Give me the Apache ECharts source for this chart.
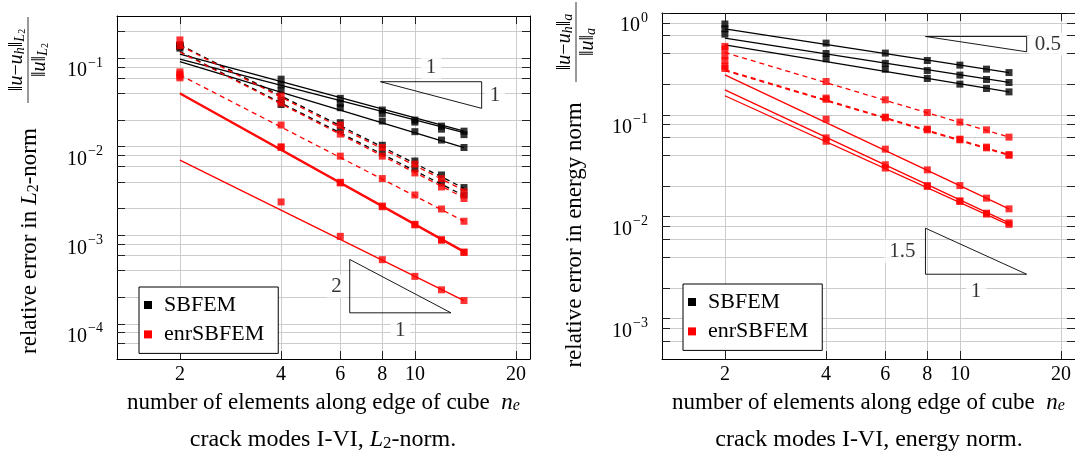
<!DOCTYPE html>
<html><head><meta charset="utf-8">
<script src="https://cdn.jsdelivr.net/npm/echarts@6/dist/echarts.min.js"></script>
<style>html,body{margin:0;padding:0;background:#fff}#c{width:1075px;height:458px}</style>
</head><body><div id="c"></div>
<script>
// ---------- data ----------
const ne = [2, 4, 6, 8, 10, 12, 14];
const fitNe = [2, 14];
const xTicks = [2, 4, 6, 8, 10, 20];
const xTickLabels = [2, 4, 6, 8, 10, 20];
const yTicksL2 = [6e-5, 8e-5, 1e-4, 2e-4, 4e-4, 6e-4, 8e-4, 1e-3, 2e-3, 4e-3, 6e-3, 8e-3, 1e-2, 2e-2, 4e-2, 6e-2, 8e-2, 0.1, 0.2];
const yLabelsL2 = [1e-4, 1e-3, 1e-2, 1e-1];
const yTicksEn = [6e-4, 8e-4, 1e-3, 2e-3, 4e-3, 6e-3, 8e-3, 1e-2, 2e-2, 4e-2, 6e-2, 8e-2, 0.1, 0.2, 0.4, 0.6, 0.8, 1];
const yLabelsEn = [1e-3, 1e-2, 1e-1, 1];

// L2-norm, SBFEM (black)
const l2SbSolid1 = [0.140, 0.058, 0.0352, 0.0260, 0.0200, 0.0171, 0.0150];
const l2SbSolid2 = [0.135, 0.050, 0.0309, 0.0238, 0.0190, 0.0158, 0.0137];
const l2SbSolid3 = [0.130, 0.043, 0.0276, 0.0195, 0.0148, 0.0119, 0.0098];
const l2SbDash1  = [0.1416, 0.0337, 0.0187, 0.0104, 0.0069, 0.0048, 0.00346];
const l2SbDash2  = [0.138, 0.0300, 0.0154, 0.0085, 0.00568, 0.0039, 0.00285];
const l2SbSolid1Fit = [0.111, 0.0150];
const l2SbSolid2Fit = [0.0974, 0.0144];
const l2SbSolid3Fit = [0.0915, 0.0098];
const l2SbDash1Fit  = [0.1416, 0.00340];
const l2SbDash2Fit  = [0.119, 0.00280];
// L2-norm, enrSBFEM (red)
const l2EnDash1  = [0.161, 0.0374, 0.01758, 0.00982, 0.00636, 0.00437, 0.00309];
const l2EnDash2  = [0.138, 0.0312, 0.0139, 0.00783, 0.00506, 0.00351, 0.00260];
const l2EnDash3  = [0.070, 0.0176, 0.00783, 0.00437, 0.00285, 0.00198, 0.00144];
const l2EnSolid1 = [0.060, 0.0100, 0.00397, 0.00214, 0.00133, 0.00089, 0.000646];
const l2EnSolid2 = [0.063, 0.0098, 0.00390, 0.00210, 0.00131, 0.00088, 0.000640];
const l2EnSolid3 = [0.066, 0.00238, 0.000972, 0.00053, 0.000343, 0.000242, 0.000183];
const l2EnDash1Fit  = [0.139, 0.00320];
const l2EnDash2Fit  = [0.1175, 0.00265];
const l2EnDash3Fit  = [0.0647, 0.00144];
const l2EnSolid1Fit = [0.0408, 0.000662];
const l2EnSolid2Fit = [0.0396, 0.000640];
const l2EnSolid3Fit = [0.00705, 0.000183];

// energy norm, SBFEM (black)
const enSbSolid1 = [0.78, 0.506, 0.404, 0.3415, 0.3077, 0.281, 0.260];
const enSbSolid2 = [0.70, 0.400, 0.320, 0.272, 0.2454, 0.2223, 0.2077];
const enSbSolid3 = [0.62, 0.355, 0.280, 0.2275, 0.2002, 0.1813, 0.168];
const enSbSolid1Fit = [0.700, 0.260];
const enSbSolid2Fit = [0.567, 0.208];
const enSbSolid3Fit = [0.4875, 0.168];
// energy norm, enrSBFEM (red)
const enEnDash1  = [0.44, 0.2125, 0.1404, 0.1053, 0.0848, 0.0712, 0.0604];
const enEnDash2  = [0.30, 0.146, 0.0949, 0.0724, 0.0577, 0.0482, 0.0407];
const enEnDash3  = [0.285, 0.142, 0.0935, 0.0712, 0.0568, 0.0474, 0.0400];
const enEnSolid1 = [0.47, 0.0907, 0.0460, 0.0288, 0.0202, 0.0152, 0.01193];
const enEnSolid2 = [0.38, 0.0594, 0.0323, 0.0202, 0.0143, 0.01082, 0.0087];
const enEnSolid3 = [0.34, 0.0550, 0.0300, 0.0198, 0.0141, 0.0106, 0.0084];
const enEnDash1Fit  = [0.409, 0.0604];
const enEnDash2Fit  = [0.277, 0.0407];
const enEnDash3Fit  = [0.272, 0.0400];
const enEnSolid1Fit = [0.247, 0.0119];
const enEnSolid2Fit = [0.176, 0.0087];
const enEnSolid3Fit = [0.154, 0.0083];

// slope triangles (data coordinates)
const triL2a = [[7.9, 0.0543], [15.8, 0.0543], [15.8, 0.02715], [7.9, 0.0543]];
const triL2b = [[6.4, 5.33e-4], [6.4, 1.33e-4], [12.8, 1.33e-4], [6.4, 5.33e-4]];
const triEnA = [[7.9, 0.588], [15.8, 0.588], [15.8, 0.416], [7.9, 0.588]];
const triEnB = [[7.9, 7.7e-3], [7.9, 2.72e-3], [15.8, 2.72e-3], [7.9, 7.7e-3]];

// ---------- chart ----------
const FONT = "'Liberation Serif','DejaVu Serif',serif";
const BLACK = '#000000', RED = '#ff0000';

function markers(name, color, vals, gi, z) {
  return { type: 'scatter', name: name, xAxisIndex: gi * 2, yAxisIndex: gi * 2,
    symbol: 'rect', symbolSize: 7, itemStyle: { color: color }, z: z, silent: true,
    data: ne.map((x, i) => [x, vals[i]]) };
}
function fit(name, color, vals, dashed, gi, z) {
  return { type: 'line', name: name, xAxisIndex: gi * 2, yAxisIndex: gi * 2,
    showSymbol: false, symbol: 'none', silent: true, z: z,
    itemStyle: { color: color },
    lineStyle: { color: color, width: 1.3, type: dashed ? [5, 4] : 'solid' },
    data: fitNe.map((x, i) => [x, vals[i]]) };
}
function tri(pts, gi) {
  return { type: 'line', xAxisIndex: gi * 2, yAxisIndex: gi * 2, showSymbol: false, symbol: 'none',
    silent: true, z: 6, lineStyle: { color: '#000', width: 0.9 }, data: pts };
}
function triLabels(items, gi) {
  return { type: 'scatter', xAxisIndex: gi * 2, yAxisIndex: gi * 2, symbolSize: 0, silent: true, z: 7,
    data: items.map(it => ({ value: [it[0], it[1]], label: { show: true, formatter: it[2], position: it[3], distance: it[4],
      fontFamily: FONT, fontSize: 21, color: '#000', backgroundColor: '#fff', padding: [1, 5] } })) };
}

function supLabel(v) {
  const e = Math.round(Math.log10(v));
  return '{b|10}{s|' + (e < 0 ? '\u2212' + (-e) : String(e)) + '}';
}
const supRich = {
  b: { fontFamily: FONT, fontSize: 20, lineHeight: 20, padding: [13, 0, 0, 0], verticalAlign: 'top', color: '#000' },
  s: { fontFamily: FONT, fontSize: 14, lineHeight: 14, padding: [8, 0, 0, 1], verticalAlign: 'top', color: '#000' }
};
const nameRich = {
  t: { fontFamily: FONT, fontSize: 23, color: '#000' },
  n: { fontFamily: FONT, fontSize: 23, fontStyle: 'italic', color: '#000' },
  e: { fontFamily: FONT, fontSize: 16, fontStyle: 'italic', color: '#000', verticalAlign: 'bottom', lineHeight: 18 }
};

function xAx(gi, pos, main) {
  const a = { type: 'log', logBase: 10, gridIndex: gi, position: pos, min: 1.3, max: 22,
    axisLine: { show: true, onZero: false, lineStyle: { color: '#000', width: 1 } },
    axisTick: { show: true, inside: true, length: 8, customValues: xTicks, lineStyle: { color: '#222', width: 1 } },
    axisLabel: { show: main, customValues: xTickLabels, margin: 6, fontFamily: FONT, fontSize: 20, color: '#000',
      formatter: v => String(Math.round(v)) },
    splitLine: { show: main, lineStyle: { color: '#cccccc', width: 1 } },
    minorTick: { show: false }, minorSplitLine: { show: false }, axisPointer: { show: false } };
  if (main) {
    a.name = '{t|number of elements along edge of cube}  {n|n}{e|e}';
    a.nameLocation = 'middle'; a.nameGap = 32;
    a.nameTextStyle = { rich: nameRich, fontFamily: FONT, fontSize: 23, color: '#000' };
  }
  return a;
}
function yAx(gi, pos, main, min, max, ticks, labels) {
  return { type: 'log', logBase: 10, gridIndex: gi, position: pos, min: min, max: max,
    axisLine: { show: true, onZero: false, lineStyle: { color: '#000', width: 1 } },
    axisTick: { show: true, inside: true, length: 8, customValues: ticks, lineStyle: { color: '#222', width: 1 } },
    axisLabel: { show: main, customValues: labels, margin: 14, formatter: supLabel, rich: supRich },
    splitLine: { show: main, lineStyle: { color: '#cccccc', width: 1 } },
    minorTick: { show: false }, minorSplitLine: { show: false }, axisPointer: { show: false } };
}

function legendAt(left, top) {
  return { data: ['SBFEM', 'enrSBFEM'], orient: 'vertical', left: left, top: top, icon: 'rect',
    itemWidth: 8, itemHeight: 8, itemGap: 7.4, selectedMode: false, z: 10,
    backgroundColor: '#fff', borderColor: '#000', borderWidth: 1, borderRadius: 0, padding: [7, 14, 8, 5],
    textStyle: { fontFamily: FONT, fontSize: 22, color: '#000', lineHeight: 20, padding: [0, 0, 0, 7] } };
}

const mathRich = {
  n: { fontFamily: FONT, fontSize: 20, fill: '#000', color: '#000' },
  i: { fontFamily: FONT, fontSize: 20, fontStyle: 'italic', fill: '#000', color: '#000' },
  s: { fontFamily: FONT, fontSize: 14, fontStyle: 'italic', fill: '#000', color: '#000', verticalAlign: 'bottom', lineHeight: 14 },
  s2: { fontFamily: FONT, fontSize: 10, fill: '#000', color: '#000', verticalAlign: 'bottom', lineHeight: 10 }
};
const titleRich = {
  r: { fontFamily: FONT, fontSize: 23, fill: '#000', color: '#000' },
  i: { fontFamily: FONT, fontSize: 23, fontStyle: 'italic', fill: '#000', color: '#000' },
  s: { fontFamily: FONT, fontSize: 16, fill: '#000', color: '#000', verticalAlign: 'bottom', lineHeight: 16 }
};
const capRich = {
  r: { fontFamily: FONT, fontSize: 24, fill: '#000', color: '#000' },
  i: { fontFamily: FONT, fontSize: 24, fontStyle: 'italic', fill: '#000', color: '#000' },
  s: { fontFamily: FONT, fontSize: 17, fill: '#000', color: '#000', verticalAlign: 'bottom', lineHeight: 17 }
};
function rotText(x, y, text, rich) {
  return { type: 'text', x: x, y: y, rotation: Math.PI / 2, silent: true,
    style: { text: text, rich: rich, align: 'center', verticalAlign: 'middle', fill: '#000' } };
}
function frac(x, y, num, den, half) {
  return { type: 'group', x: x, y: y, rotation: Math.PI / 2, silent: true, children: [
    { type: 'text', x: 0, y: -11, style: { text: num, rich: mathRich, align: 'center', verticalAlign: 'middle', fill: '#000' } },
    { type: 'line', shape: { x1: -half, y1: 0, x2: half, y2: 0 }, style: { stroke: '#000', lineWidth: 0.8 } },
    { type: 'text', x: 0, y: 12, style: { text: den, rich: mathRich, align: 'center', verticalAlign: 'middle', fill: '#000' } }
  ] };
}

const series = [
  // L2 panel
  fit('SBFEM', BLACK, l2SbSolid1Fit, false, 0, 2), fit('SBFEM', BLACK, l2SbSolid2Fit, false, 0, 2),
  fit('SBFEM', BLACK, l2SbSolid3Fit, false, 0, 2), fit('SBFEM', BLACK, l2SbDash1Fit, true, 0, 2),
  fit('SBFEM', BLACK, l2SbDash2Fit, true, 0, 2),
  markers('SBFEM', BLACK, l2SbSolid1, 0, 3), markers('SBFEM', BLACK, l2SbSolid2, 0, 3),
  markers('SBFEM', BLACK, l2SbSolid3, 0, 3), markers('SBFEM', BLACK, l2SbDash1, 0, 3),
  markers('SBFEM', BLACK, l2SbDash2, 0, 3),
  fit('enrSBFEM', RED, l2EnDash1Fit, true, 0, 4), fit('enrSBFEM', RED, l2EnDash2Fit, true, 0, 4),
  fit('enrSBFEM', RED, l2EnDash3Fit, true, 0, 4), fit('enrSBFEM', RED, l2EnSolid1Fit, false, 0, 4),
  fit('enrSBFEM', RED, l2EnSolid2Fit, false, 0, 4), fit('enrSBFEM', RED, l2EnSolid3Fit, false, 0, 4),
  markers('enrSBFEM', RED, l2EnDash1, 0, 5), markers('enrSBFEM', RED, l2EnDash2, 0, 5),
  markers('enrSBFEM', RED, l2EnDash3, 0, 5), markers('enrSBFEM', RED, l2EnSolid1, 0, 5),
  markers('enrSBFEM', RED, l2EnSolid2, 0, 5), markers('enrSBFEM', RED, l2EnSolid3, 0, 5),
  tri(triL2a, 0), tri(triL2b, 0),
  triLabels([[11.17, 0.0543, '1', 'top', 3], [15.8, 0.0384, '1', 'right', 3],
             [6.4, 2.67e-4, '2', 'left', 3], [9.05, 1.33e-4, '1', 'bottom', 6]], 0),
  // energy panel
  fit('SBFEM', BLACK, enSbSolid1Fit, false, 1, 2), fit('SBFEM', BLACK, enSbSolid2Fit, false, 1, 2),
  fit('SBFEM', BLACK, enSbSolid3Fit, false, 1, 2),
  markers('SBFEM', BLACK, enSbSolid1, 1, 3), markers('SBFEM', BLACK, enSbSolid2, 1, 3),
  markers('SBFEM', BLACK, enSbSolid3, 1, 3),
  fit('enrSBFEM', RED, enEnDash1Fit, true, 1, 4), fit('enrSBFEM', RED, enEnDash2Fit, true, 1, 4),
  fit('enrSBFEM', RED, enEnDash3Fit, true, 1, 4), fit('enrSBFEM', RED, enEnSolid1Fit, false, 1, 4),
  fit('enrSBFEM', RED, enEnSolid2Fit, false, 1, 4), fit('enrSBFEM', RED, enEnSolid3Fit, false, 1, 4),
  markers('enrSBFEM', RED, enEnDash1, 1, 5), markers('enrSBFEM', RED, enEnDash2, 1, 5),
  markers('enrSBFEM', RED, enEnDash3, 1, 5), markers('enrSBFEM', RED, enEnSolid1, 1, 5),
  markers('enrSBFEM', RED, enEnSolid2, 1, 5), markers('enrSBFEM', RED, enEnSolid3, 1, 5),
  tri(triEnA, 1), tri(triEnB, 1),
  triLabels([[15.8, 0.495, '0.5', 'right', 3], [7.9, 4.58e-3, '1.5', 'left', 5],
             [11.17, 2.72e-3, '1', 'bottom', 6]], 1)
];

const chart = echarts.init(document.getElementById('c'), null, { renderer: 'canvas' });
chart.setOption({
  animation: false,
  backgroundColor: '#fff',
  grid: [
    { left: 117, top: 16, width: 413, height: 343, containLabel: false },
    { left: 662, top: 13, width: 415, height: 346, containLabel: false }
  ],
  xAxis: [xAx(0, 'bottom', true), xAx(0, 'top', false), xAx(1, 'bottom', true), xAx(1, 'top', false)],
  yAxis: [
    yAx(0, 'left', true, 4e-5, 0.3, yTicksL2, yLabelsL2), yAx(0, 'right', false, 4e-5, 0.3, yTicksL2, yLabelsL2),
    yAx(1, 'left', true, 4e-4, 1, yTicksEn, yLabelsEn), yAx(1, 'right', false, 4e-4, 1, yTicksEn, yLabelsEn)
  ],
  legend: [legendAt(139, 287), legendAt(683, 284)],
  graphic: [
    rotText(30, 241, '{r|relative error in }{i|L}{s|2}{r|-norm}', titleRich),
    frac(28, 60, '{n|\u2016}{i|u}{n|\u2212}{i|u}{s|h}{n|\u2016}{s|L}{s2|2}', '{n|\u2016}{i|u}{n|\u2016}{s|L}{s2|2}', 43),
    rotText(575, 235, '{r|relative error in energy norm}', titleRich),
    frac(576, 42, '{n|\u2016}{i|u}{n|\u2212}{i|u}{s|h}{n|\u2016}{s|a}', '{n|\u2016}{i|u}{n|\u2016}{s|a}', 40),
    { type: 'text', x: 323, y: 440, silent: true, style: { text: '{r|crack modes I-VI, }{i|L}{s|2}{r|-norm.}', rich: capRich, align: 'center', verticalAlign: 'middle', fill: '#000' } },
    { type: 'text', x: 869, y: 440, silent: true, style: { text: '{r|crack modes I-VI, energy norm.}', rich: capRich, align: 'center', verticalAlign: 'middle', fill: '#000' } }
  ],
  series: series
});
</script></body></html>
